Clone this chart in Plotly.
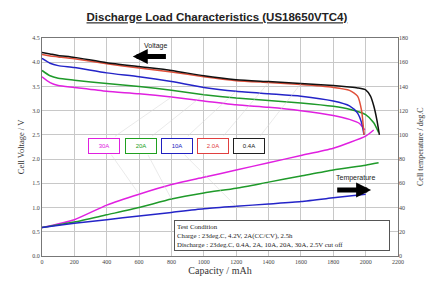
import plotly.graph_objects as go

# ---- data ----
cap_04 = [0, 50, 100, 200, 400, 600, 800, 1000, 1200, 1400, 1600, 1800, 1900, 1950, 2000, 2030, 2050, 2070, 2085]
v_04 = [4.20, 4.17, 4.14, 4.10, 3.99, 3.91, 3.83, 3.72, 3.64, 3.60, 3.56, 3.52, 3.49, 3.47, 3.43, 3.30, 3.10, 2.80, 2.50]

cap_20 = [0, 50, 100, 200, 400, 600, 800, 1000, 1200, 1400, 1600, 1800, 1900, 1950, 1975, 1990]
v_20 = [4.16, 4.13, 4.11, 4.07, 3.97, 3.88, 3.80, 3.70, 3.62, 3.58, 3.54, 3.48, 3.42, 3.30, 3.00, 2.50]

cap_10 = [0, 50, 100, 200, 400, 600, 800, 1000, 1200, 1400, 1600, 1800, 1900, 1950, 1975, 1990]
v_10 = [4.08, 3.98, 3.93, 3.89, 3.78, 3.70, 3.60, 3.48, 3.40, 3.35, 3.30, 3.20, 3.10, 2.95, 2.75, 2.50]

cap_200 = [0, 50, 100, 200, 400, 600, 800, 1000, 1200, 1400, 1600, 1800, 1900, 2000, 2050, 2080]
v_200 = [3.83, 3.72, 3.67, 3.63, 3.56, 3.50, 3.42, 3.33, 3.26, 3.21, 3.16, 3.09, 3.03, 2.92, 2.75, 2.55]

cap_300 = [0, 50, 100, 200, 400, 600, 800, 1000, 1200, 1400, 1600, 1800, 1900, 1960, 1995]
v_300 = [3.70, 3.58, 3.52, 3.48, 3.40, 3.35, 3.28, 3.20, 3.12, 3.07, 3.00, 2.90, 2.82, 2.74, 2.60]

tcap_30 = [0, 200, 400, 600, 800, 1000, 1200, 1400, 1600, 1800, 2000, 2050]
t_30 = [23.5, 30, 42, 51, 59, 65, 71, 77, 83, 89, 99, 104]

tcap_20 = [0, 200, 400, 600, 800, 1000, 1200, 1400, 1600, 1800, 2000, 2080]
t_20 = [23.5, 28, 34, 40, 47, 52, 56, 61, 66, 71, 75, 77]

tcap_10 = [0, 200, 400, 600, 800, 1000, 1200, 1400, 1600, 1800, 2000]
t_10 = [23.5, 27, 30, 33, 36, 39, 41, 43, 45, 48, 51]

x_ticks = list(range(0, 2201, 200))
y_ticks = [0.0, 0.5, 1.0, 1.5, 2.0, 2.5, 3.0, 3.5, 4.0, 4.5]
y2_ticks = list(range(0, 181, 20))

labels = ["30A", "20A", "10A", "2.0A", "0.4A"]
label_x = [382, 610, 832, 1054, 1282]
label_col = ["#e020e0", "#20a020", "#2020c0", "#e04040", "#202020"]

MAG, GRN, BLU, RED, BLK = "#e020e0", "#1f9a2a", "#2424c8", "#e0503a", "#111111"

fig = go.Figure()
serif = "Liberation Serif"

def vline(x, y, c):
    fig.add_trace(go.Scatter(x=x, y=y, mode="lines", line=dict(color=c, width=1.5, shape="spline", smoothing=0.6),
                             showlegend=False, hoverinfo="skip"))

def tline(x, y, c):
    fig.add_trace(go.Scatter(x=x, y=y, mode="lines", yaxis="y2", line=dict(color=c, width=1.5, shape="spline", smoothing=0.6),
                             showlegend=False, hoverinfo="skip"))

vline(cap_300, v_300, MAG)
vline(cap_200, v_200, GRN)
vline(cap_10, v_10, BLU)
vline(cap_20, v_20, RED)
vline(cap_04, v_04, BLK)
tline(tcap_30, t_30, MAG)
tline(tcap_20, t_20, GRN)
tline(tcap_10, t_10, BLU)

ann = []
# leader lines (thin gray) from labels to curves
leader_targets_v = [(cap_300[6], v_300[6]), (cap_200[7], v_200[7]), (cap_10[8], v_10[8]), (cap_20[9], v_20[9]), (cap_04[10], v_04[10])]
for lx, (tx, ty) in zip(label_x, leader_targets_v):
    ann.append(dict(x=tx, y=ty, ax=lx + 60, ay=2.45, xref="x", yref="y", axref="x", ayref="y",
                    showarrow=True, arrowhead=0, arrowwidth=0.5, arrowcolor="#d4d4d4", text=""))
leader_targets_t = [(tcap_30[3], t_30[3] / 40.0), (tcap_20[4], t_20[4] / 40.0), (tcap_10[6], t_10[6] / 40.0)]
for lx, (tx, ty) in zip(label_x[:3], leader_targets_t):
    ann.append(dict(x=tx, y=ty, ax=lx + 40, ay=2.12, xref="x", yref="y", axref="x", ayref="y",
                    showarrow=True, arrowhead=0, arrowwidth=0.5, arrowcolor="#d4d4d4", text=""))

for t, x, c in zip(labels, label_x, label_col):
    ann.append(dict(x=x, y=2.28, xref="x", yref="y", text=t, showarrow=False,
                    font=dict(family="Liberation Sans", size=6, color=c),
                    bordercolor=c, borderwidth=1, borderpad=4, bgcolor="white", width=22))

# Voltage arrow
ann.append(dict(x=561, y=4.12, ax=775, ay=4.12, xref="x", yref="y", axref="x", ayref="y",
                showarrow=True, arrowhead=2, arrowsize=0.6, arrowwidth=5, arrowcolor="black", text=""))
ann.append(dict(x=700, y=4.33, xref="x", yref="y", text="Voltage", showarrow=False,
                font=dict(family="Liberation Sans", size=7, color="#222")))
# Temperature arrow
ann.append(dict(x=2034, y=1.36, ax=1815, ay=1.36, xref="x", yref="y", axref="x", ayref="y",
                showarrow=True, arrowhead=2, arrowsize=0.6, arrowwidth=5, arrowcolor="black", text=""))
ann.append(dict(x=1935, y=1.61, xref="x", yref="y", text="Temperature", showarrow=False,
                font=dict(family="Liberation Sans", size=7, color="#222")))
# test condition box
ann.append(dict(x=813, y=0.11, xref="x", yref="y", xanchor="left", yanchor="bottom", align="left",
                text="Test Condition<br>Charge : 23deg.C, 4.2V, 2A(CC/CV), 2.5h<br>Discharge : 23deg.C, 0.4A, 2A, 10A, 20A, 30A, 2.5V cut off",
                showarrow=False, font=dict(family=serif, size=6.8, color="#222"),
                bordercolor="#555", borderwidth=1, borderpad=2, bgcolor="white", width=210))

# right axis title as rotated text at the figure edge
ann.append(dict(x=1.0, y=0.5, xref="paper", yref="paper", xanchor="center", yanchor="middle",
                xshift=22, text="Cell temperature / deg.C", textangle=-90, showarrow=False,
                font=dict(family=serif, size=8, color="#333")))

fig.update_layout(
    width=427, height=288,
    margin=dict(l=42, r=29, t=38, b=32, autoexpand=False),
    paper_bgcolor="white", plot_bgcolor="white",
    title=dict(text="<b><u>Discharge Load Characteristics (US18650VTC4)</u></b>",
               x=0.508, xanchor="center", y=0.94, yanchor="middle",
               font=dict(family="Liberation Sans", size=11.5, color="#222")),
    xaxis=dict(range=[0, 2200], tickvals=x_ticks, ticktext=[str(v) for v in x_ticks],
               showgrid=True, gridcolor="#c8c8c8", gridwidth=1, zeroline=False, automargin=False,
               showline=True, linecolor="#777", mirror=True, ticks="",
               tickfont=dict(family=serif, size=6, color="#444"),
               title=dict(text="Capacity / mAh", font=dict(family=serif, size=10, color="#333"), standoff=2)),
    yaxis=dict(range=[0, 4.5], tickvals=y_ticks, ticktext=["%.1f" % v for v in y_ticks],
               showgrid=True, gridcolor="#c8c8c8", gridwidth=1, zeroline=False, automargin=False,
               showline=True, linecolor="#777", mirror=True, ticks="",
               tickfont=dict(family=serif, size=6, color="#444"),
               title=dict(text="Cell Voltage / V", font=dict(family=serif, size=8.5, color="#333"), standoff=6)),
    yaxis2=dict(range=[0, 180], tickvals=y2_ticks, ticktext=[str(v) for v in y2_ticks],
                overlaying="y", side="right", showgrid=False, zeroline=False, automargin=False,
                tickfont=dict(family=serif, size=6, color="#444"), ticks=""),
    annotations=ann,
    showlegend=False,
)

fig.write_html("out.html", config={"displayModeBar": False, "staticPlot": True},
               post_script="document.body.style.margin='0';document.body.style.padding='0';")
